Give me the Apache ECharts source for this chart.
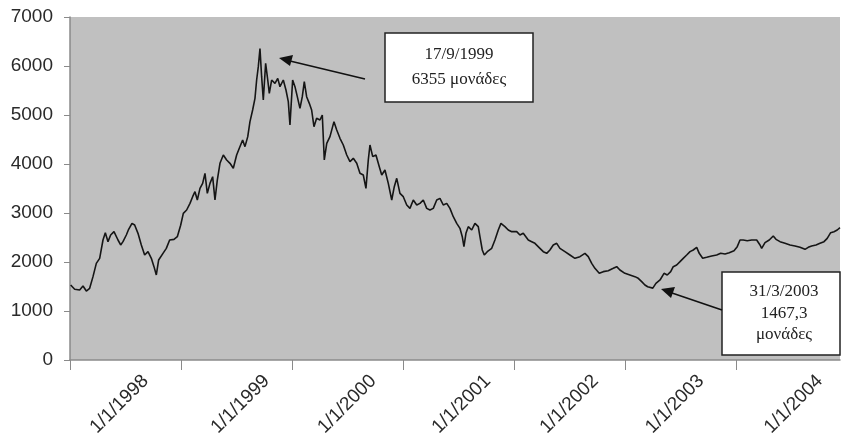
<!DOCTYPE html>
<html>
<head>
<meta charset="utf-8">
<script src="https://cdn.jsdelivr.net/npm/echarts@6/dist/echarts.min.js"></script>
<style>
html,body{margin:0;padding:0;background:#fff;}
#chart{width:842px;height:440px;}
</style>
</head>
<body>
<div id="chart"></div>
<script>
// Time position of each reading, in decimal years
const years = [
1998.006,1998.042,1998.087,1998.117,1998.147,1998.177,1998.207,1998.237,1998.267,1998.297,
1998.318,1998.342,1998.366,1998.396,1998.432,1998.456,1998.477,1998.507,1998.528,1998.558,
1998.582,1998.612,1998.642,1998.672,1998.702,1998.732,1998.756,1998.777,1998.798,1998.837,
1998.867,1998.897,1998.936,1998.966,1998.996,
1999.020,1999.050,1999.080,1999.104,1999.125,1999.146,1999.170,1999.194,1999.215,1999.236,
1999.260,1999.284,1999.305,1999.326,1999.350,1999.380,1999.410,1999.440,1999.470,1999.500,
1999.524,1999.554,1999.575,1999.600,1999.620,1999.644,1999.665,1999.680,1999.695,1999.710,
1999.725,1999.740,1999.761,1999.780,1999.794,1999.815,1999.845,1999.870,1999.890,1999.920,
1999.944,1999.965,1999.980,
2000.004,2000.025,2000.046,2000.070,2000.091,2000.109,2000.130,2000.154,2000.175,2000.196,
2000.220,2000.250,2000.271,2000.289,2000.311,2000.340,2000.376,2000.401,2000.430,2000.460,
2000.491,2000.520,2000.550,2000.581,2000.610,2000.640,2000.664,2000.685,2000.700,2000.725,
2000.754,2000.784,2000.806,2000.835,2000.865,2000.896,2000.919,2000.941,2000.970,
2001.000,2001.031,2001.060,2001.090,2001.121,2001.150,2001.180,2001.211,2001.240,2001.270,
2001.301,2001.330,2001.360,2001.391,2001.420,2001.450,2001.481,2001.510,2001.531,2001.546,
2001.564,2001.585,2001.616,2001.645,2001.675,2001.690,2001.711,2001.729,2001.756,2001.796,
2001.825,2001.855,2001.879,2001.915,2001.945,2001.976,
2002.021,2002.050,2002.080,2002.125,2002.156,2002.185,2002.230,2002.260,2002.291,2002.320,
2002.350,2002.381,2002.410,2002.455,2002.500,2002.545,2002.590,2002.635,2002.665,2002.696,
2002.725,2002.764,2002.800,2002.845,2002.890,2002.921,2002.950,2002.995,
2003.040,2003.085,2003.115,2003.146,2003.175,2003.200,2003.246,2003.274,2003.311,2003.347,
2003.376,2003.407,2003.430,2003.461,2003.491,2003.520,2003.551,2003.581,2003.610,2003.641,
2003.664,2003.695,2003.731,2003.776,2003.821,2003.857,2003.896,2003.934,2003.977,
2004.006,2004.031,2004.060,2004.096,2004.136,2004.181,2004.211,2004.226,2004.256,2004.294,
2004.330,2004.355,2004.391,2004.436,2004.481,2004.526,2004.571,2004.616,2004.645,2004.676,
2004.715,2004.751,2004.787,2004.816,2004.847,2004.877,2004.906,2004.931
];
// Index level (μονάδες)
const values = [
1531,1443,1429,1510,1408,1463,1701,1973,2075,2449,
2598,2415,2551,2619,2449,2347,2415,2551,2667,2789,
2755,2585,2347,2143,2211,2075,1905,1735,2041,2177,
2279,2449,2462,2517,2750,
2993,3061,3197,3333,3435,3265,3503,3605,3810,3401,
3605,3741,3265,3673,4014,4184,4082,4014,3912,4184,
4320,4490,4354,4558,4864,5102,5340,5714,5986,6355,
5782,5306,6055,5714,5442,5714,5646,5748,5578,5714,
5510,5272,4796,
5714,5578,5374,5136,5374,5680,5374,5238,5102,4762,
4932,4898,5000,4082,4422,4558,4864,4694,4524,4388,
4184,4048,4116,4014,3810,3776,3503,4082,4388,4150,
4184,3945,3776,3878,3605,3265,3537,3708,3401,
3333,3163,3095,3265,3163,3197,3265,3095,3061,3095,
3265,3299,3163,3197,3095,2925,2789,2687,2517,2313,
2585,2721,2653,2789,2721,2517,2245,2143,2211,2279,
2449,2653,2789,2721,2653,2619,
2619,2551,2585,2449,2415,2381,2279,2211,2177,2245,
2347,2381,2279,2211,2143,2075,2109,2177,2109,1973,
1871,1769,1803,1823,1871,1905,1837,1769,
1735,1701,1667,1599,1531,1495,1467,1565,1633,1769,
1735,1803,1905,1939,2007,2075,2143,2211,2245,2299,
2177,2075,2095,2122,2143,2177,2163,2190,2231,
2313,2449,2449,2435,2449,2449,2347,2279,2394,2449,
2531,2462,2415,2381,2347,2327,2299,2259,2299,2327,
2347,2381,2415,2483,2598,2619,2653,2700
];
const tickYears = [1998, 1999, 2000, 2001, 2002, 2003, 2004];
const labelYears = [1998.68, 1999.77, 2000.73, 2001.76, 2002.73, 2003.68, 2004.75];
const tickLabels = ['1/1/1998', '1/1/1999', '1/1/2000', '1/1/2001', '1/1/2002', '1/1/2003', '1/1/2004'];
const yMin = 0, yMax = 7000, yStep = 1000;
const note1 = ['17/9/1999', '6355 μονάδες'];
const note2 = ['31/3/2003', '1467,3', 'μονάδες'];

const seriesData = years.map((y, i) => [y, values[i]]);

const chart = echarts.init(document.getElementById('chart'), null, {renderer: 'canvas'});
const axisGray = '#8a8a8a';
const labelFont = {fontFamily: '"Liberation Sans", Arial, sans-serif', fontSize: 19, color: '#2a2a2a'};
const serif = '"Liberation Serif", "Times New Roman", serif';

chart.setOption({
  animation: false,
  backgroundColor: '#ffffff',
  grid: {left: 70, right: 2, top: 17, bottom: 80, show: true, backgroundColor: '#c0c0c0', borderWidth: 0},
  xAxis: {
    type: 'value',
    min: 1998,
    max: years[years.length - 1],
    splitLine: {show: false},
    axisLine: {show: true, onZero: false, lineStyle: {color: axisGray, width: 1.5}},
    axisTick: {show: true, length: 10, lineStyle: {color: axisGray, width: 1}, customValues: tickYears},
    axisLabel: Object.assign({
      rotate: 45,
      margin: 18,
      customValues: labelYears,
      formatter: v => tickLabels[Math.floor(v) - 1998] || ''
    }, labelFont)
  },
  yAxis: {
    type: 'value',
    min: yMin, max: yMax, interval: yStep,
    splitLine: {show: false},
    axisLine: {show: true, lineStyle: {color: axisGray, width: 1.5}},
    axisTick: {show: true, length: 6, lineStyle: {color: axisGray}},
    axisLabel: Object.assign({margin: 17, formatter: v => String(v)}, labelFont)
  },
  series: [{
    type: 'line',
    data: seriesData,
    showSymbol: false,
    symbol: 'none',
    lineStyle: {color: '#151515', width: 1.6},
    z: 3
  }],
  graphic: [
    // box 1
    {type: 'rect', shape: {x: 385, y: 33, width: 148, height: 69}, style: {fill: '#ffffff', stroke: '#222', lineWidth: 1.5}, z: 10},
    {type: 'text', x: 459, y: 55, style: {text: note1[0], font: '17px ' + serif, fill: '#222', align: 'center', verticalAlign: 'middle'}, z: 11},
    {type: 'text', x: 459, y: 80, style: {text: note1[1], font: '17px ' + serif, fill: '#222', align: 'center', verticalAlign: 'middle'}, z: 11},
    // arrow 1
    {type: 'line', shape: {x1: 365, y1: 79, x2: 290, y2: 61}, style: {stroke: '#111', lineWidth: 1.6}, z: 10},
    {type: 'polygon', shape: {points: [[279, 58], [293, 55], [290, 66]]}, style: {fill: '#111'}, z: 10},
    // box 2
    {type: 'rect', shape: {x: 722, y: 272, width: 118, height: 83}, style: {fill: '#ffffff', stroke: '#222', lineWidth: 1.5}, z: 10},
    {type: 'text', x: 784, y: 292, style: {text: note2[0], font: '17px ' + serif, fill: '#222', align: 'center', verticalAlign: 'middle'}, z: 11},
    {type: 'text', x: 784, y: 314, style: {text: note2[1], font: '17px ' + serif, fill: '#222', align: 'center', verticalAlign: 'middle'}, z: 11},
    {type: 'text', x: 784, y: 335, style: {text: note2[2], font: '17px ' + serif, fill: '#222', align: 'center', verticalAlign: 'middle'}, z: 11},
    // arrow 2
    {type: 'line', shape: {x1: 722, y1: 310, x2: 672, y2: 293}, style: {stroke: '#111', lineWidth: 1.6}, z: 10},
    {type: 'polygon', shape: {points: [[661, 289], [675, 287], [671, 298]]}, style: {fill: '#111'}, z: 10}
  ]
});
</script>
</body>
</html>
